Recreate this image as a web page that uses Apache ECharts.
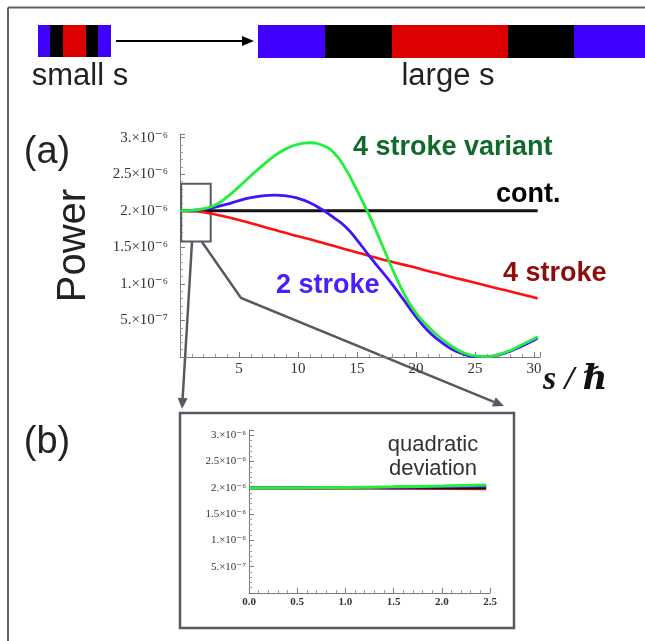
<!DOCTYPE html>
<html>
<head>
<meta charset="utf-8">
<script src="https://cdn.jsdelivr.net/npm/echarts@6/dist/echarts.min.js"></script>
<style>
html,body{margin:0;padding:0;background:#fff;}
#c{width:645px;height:641px;}
</style>
</head>
<body>
<div id="c"></div>
<script>
// ---- data (power in units of 1e-6) ----
const sValues = [0,1,2,3,4,5,6,7,8,9,10,11,12,13,14,15,16,17,18,19,20,21,22,23,24,25,26,27,28,29,30,30.3];
const contPower = [2.0,2.0,2.0,2.0,2.0,2.0,2.0,2.0,2.0,2.0,2.0,2.0,2.0,2.0,2.0,2.0,2.0,2.0,2.0,2.0,2.0,2.0,2.0,2.0,2.0,2.0,2.0,2.0,2.0,2.0,2.0,2.0];
const fourStroke = [2.0,1.995,1.98,1.95,1.915,1.875,1.83,1.785,1.74,1.695,1.65,1.61,1.565,1.52,1.475,1.43,1.385,1.34,1.30,1.26,1.22,1.175,1.135,1.095,1.055,1.015,0.975,0.935,0.895,0.855,0.815,0.80];
const twoStroke = [2.0,2.005,2.02,2.05,2.09,2.14,2.18,2.205,2.215,2.205,2.17,2.11,2.02,1.91,1.785,1.60,1.39,1.19,0.99,0.77,0.55,0.36,0.22,0.11,0.04,0.005,0.005,0.03,0.08,0.15,0.23,0.26];
const fourStrokeVariant = [2.0,2.005,2.03,2.08,2.19,2.33,2.48,2.62,2.75,2.85,2.91,2.93,2.90,2.80,2.58,2.28,1.95,1.58,1.20,0.86,0.60,0.42,0.27,0.15,0.06,0.015,0.005,0.035,0.09,0.17,0.25,0.28];

const insetS = [0,0.5,1.0,1.5,2.0,2.46];
const insetCont = [2.0,2.0,2.0,2.0,2.0,2.0];
const insetFour = [2.0,1.999,1.997,1.993,1.989,1.985];
const insetTwo = [2.0,2.001,2.005,2.012,2.022,2.032];
const insetVariant = [2.0,2.002,2.008,2.019,2.036,2.056];

const xTickLabels = {5:'5',10:'10',15:'15',20:'20',25:'25',30:'30'};
const yTickLabels = {'0.5':'5.×10⁻⁷','1':'1.×10⁻⁶','1.5':'1.5×10⁻⁶','2':'2.×10⁻⁶','2.5':'2.5×10⁻⁶','3':'3.×10⁻⁶'};
const insetXTickLabels = {'0':'0.0','0.5':'0.5','1':'1.0','1.5':'1.5','2':'2.0','2.5':'2.5'};

const pair = (xs, ys) => xs.map((x, i) => [x, ys[i]]);

const C = {
  green: '#1ff03a', blue: '#4412ff', red: '#ff1010', black: '#111111',
  greenLbl: '#0f6a2c', redLbl: '#8e0c0c', blueLbl: '#4a1eff', gray: '#565b62'
};

const serif = "'Liberation Serif','DejaVu Serif',serif";
const sans = "'Liberation Sans','Helvetica Neue',Arial,sans-serif";

const chart = echarts.init(document.getElementById('c'), null, {renderer:'canvas'});

function axisCommon(fs){
  return {
    axisLine: {show:true, onZero:false, lineStyle:{color:'#7a7a7a', width:1}},
    axisTick: {show:true, inside:true, length:5, lineStyle:{color:'#7a7a7a'}},
    minorTick: {show:true, splitNumber:5, length:3, lineStyle:{color:'#9a9a9a'}},
    splitLine: {show:false},
    axisLabel: {fontFamily: serif, fontSize: fs, color:'#333'}
  };
}

function arrowHead(tip, from, len, half){
  const dx = tip[0]-from[0], dy = tip[1]-from[1];
  const L = Math.hypot(dx, dy), ux = dx/L, uy = dy/L;
  const bx = tip[0]-ux*len, by = tip[1]-uy*len;
  return {base:[bx,by], pts:[tip,[bx-uy*half, by+ux*half],[bx+uy*half, by-ux*half]]};
}

const ahLeft = arrowHead([182,409],[192,242],11,5);
const ahRight = arrowHead([504,406],[241,298],11,5);
const ahTop = arrowHead([254,41],[116,41],12,5);

const lineSeries = (name, data, color, xi, yi, w, z) => ({
  name, type:'line', data, xAxisIndex:xi, yAxisIndex:yi,
  showSymbol:false, smooth:true, clip:false,
  lineStyle:{color, width:w}, itemStyle:{color}, z
});

const option = {
  animation:false,
  backgroundColor:'#ffffff',
  grid:[
    {left:180, top:134, width:360, height:223},
    {left:249, top:430, width:241, height:163}
  ],
  xAxis:[
    Object.assign(axisCommon(15), {
      type:'value', gridIndex:0, min:0, max:30.5, interval:5,
      axisLabel:{fontFamily:serif, fontSize:15, color:'#333', margin:5,
        formatter: v => xTickLabels[v] || ''}
    }),
    Object.assign(axisCommon(11), {
      type:'value', gridIndex:1, min:0, max:2.5, interval:0.5,
      axisLabel:{fontFamily:serif, fontSize:11, fontWeight:'bold', color:'#333', margin:4,
        formatter: v => insetXTickLabels[String(+v.toFixed(2))] || ''}
    })
  ],
  yAxis:[
    Object.assign(axisCommon(15), {
      type:'value', gridIndex:0, min:0, max:3.05, interval:0.5,
      name:'Power', nameLocation:'middle', nameGap:86, nameRotate:90,
      nameTextStyle:{fontFamily:sans, fontSize:40, color:'#222'},
      axisLabel:{fontFamily:serif, fontSize:15, color:'#333', margin:12,
        formatter: v => yTickLabels[String(+v.toFixed(2))] || ''}
    }),
    Object.assign(axisCommon(11), {
      type:'value', gridIndex:1, min:0, max:3.1, interval:0.5,
      axisLabel:{fontFamily:serif, fontSize:11, color:'#333', margin:3,
        formatter: v => yTickLabels[String(+v.toFixed(2))] || ''}
    })
  ],
  series:[
    Object.assign(lineSeries('cont.', pair(sValues, contPower), C.black, 0, 0, 2.8, 3), {
      markArea:{silent:true, itemStyle:{color:'rgba(0,0,0,0)', borderColor:C.gray, borderWidth:2},
        data:[[{coord:[0.1,2.37]},{coord:[2.6,1.58]}]]}
    }),
    lineSeries('4 stroke', pair(sValues, fourStroke), C.red, 0, 0, 2.6, 4),
    lineSeries('2 stroke', pair(sValues, twoStroke), C.blue, 0, 0, 2.8, 5),
    lineSeries('4 stroke variant', pair(sValues, fourStrokeVariant), C.green, 0, 0, 2.8, 6),
    lineSeries('cont. (b)', pair(insetS, insetCont), C.black, 1, 1, 3, 3),
    lineSeries('4 stroke (b)', pair(insetS, insetFour), C.red, 1, 1, 3, 2),
    lineSeries('2 stroke (b)', pair(insetS, insetTwo), C.blue, 1, 1, 3, 4),
    lineSeries('4 stroke variant (b)', pair(insetS, insetVariant), C.green, 1, 1, 3, 5)
  ],
  graphic:[
    // outer frame
    {type:'line', shape:{x1:8,y1:7.5,x2:8,y2:641}, style:{stroke:'#5f646b', lineWidth:2}},
    {type:'line', shape:{x1:8,y1:7.5,x2:645,y2:7.5}, style:{stroke:'#5f646b', lineWidth:2}},
    // small bar
    {type:'rect', shape:{x:38,y:25,width:12,height:32}, style:{fill:'#4000ff'}},
    {type:'rect', shape:{x:50,y:25,width:13,height:32}, style:{fill:'#000'}},
    {type:'rect', shape:{x:63,y:25,width:23,height:32}, style:{fill:'#dd0000'}},
    {type:'rect', shape:{x:86,y:25,width:12,height:32}, style:{fill:'#000'}},
    {type:'rect', shape:{x:98,y:25,width:13,height:32}, style:{fill:'#4000ff'}},
    // large bar
    {type:'rect', shape:{x:258,y:25,width:67,height:33}, style:{fill:'#4000ff'}},
    {type:'rect', shape:{x:325,y:25,width:67,height:33}, style:{fill:'#000'}},
    {type:'rect', shape:{x:392,y:25,width:116,height:33}, style:{fill:'#dd0000'}},
    {type:'rect', shape:{x:508,y:25,width:66,height:33}, style:{fill:'#000'}},
    {type:'rect', shape:{x:574,y:25,width:71,height:33}, style:{fill:'#4000ff'}},
    // top arrow
    {type:'line', shape:{x1:116,y1:41,x2:ahTop.base[0],y2:41}, style:{stroke:'#000', lineWidth:2}},
    {type:'polygon', shape:{points:ahTop.pts}, style:{fill:'#000'}},
    {type:'text', x:80, y:76, style:{text:'small s', font:'31px '+sans, fill:'#222', textAlign:'center', textVerticalAlign:'middle'}},
    {type:'text', x:448, y:76, style:{text:'large s', font:'31px '+sans, fill:'#222', textAlign:'center', textVerticalAlign:'middle'}},
    // panel labels
    {type:'text', x:47, y:153, style:{text:'(a)', font:'38px '+sans, fill:'#222', textAlign:'center', textVerticalAlign:'middle'}},
    {type:'text', x:47, y:443, style:{text:'(b)', font:'38px '+sans, fill:'#222', textAlign:'center', textVerticalAlign:'middle'}},
    // axis label s / hbar
    {type:'text', x:543, y:380, style:{text:'s / ℏ', font:'italic bold 34px '+serif, fill:'#111', textAlign:'left', textVerticalAlign:'middle'}},
    // curve labels
    {type:'text', x:353, y:148, style:{text:'4 stroke variant', font:'bold 27px '+sans, fill:C.greenLbl, textAlign:'left', textVerticalAlign:'middle'}},
    {type:'text', x:496, y:195, style:{text:'cont.', font:'bold 27px '+sans, fill:'#000', textAlign:'left', textVerticalAlign:'middle'}},
    {type:'text', x:503, y:274, style:{text:'4 stroke', font:'bold 27px '+sans, fill:C.redLbl, textAlign:'left', textVerticalAlign:'middle'}},
    {type:'text', x:276, y:286, style:{text:'2 stroke', font:'bold 27px '+sans, fill:C.blueLbl, textAlign:'left', textVerticalAlign:'middle'}},
    // zoom arrows
    {type:'line', shape:{x1:192,y1:242,x2:ahLeft.base[0],y2:ahLeft.base[1]}, style:{stroke:C.gray, lineWidth:2.5}},
    {type:'polygon', shape:{points:ahLeft.pts}, style:{fill:C.gray}},
    {type:'polyline', shape:{points:[[202,242],[241,298],ahRight.base]}, style:{stroke:C.gray, lineWidth:2.5, fill:null}},
    {type:'polygon', shape:{points:ahRight.pts}, style:{fill:C.gray}},
    // inset frame
    {type:'rect', shape:{x:180,y:413,width:334,height:215}, style:{fill:null, stroke:C.gray, lineWidth:2.5}},
    {type:'text', x:433, y:457, style:{text:'quadratic\ndeviation', font:'22px '+sans, lineHeight:24, fill:'#333', textAlign:'center', textVerticalAlign:'middle'}}
  ]
};
chart.setOption(option);
</script>
</body>
</html>
